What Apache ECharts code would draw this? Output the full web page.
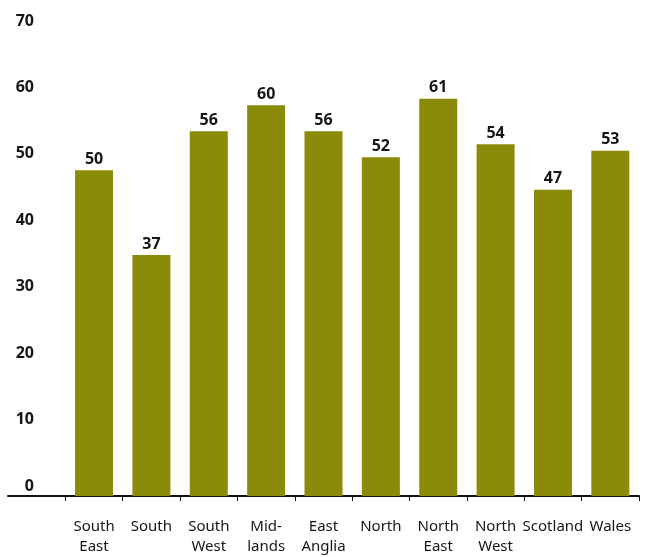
<!DOCTYPE html>
<html>
<head>
<meta charset="utf-8">
<script src="https://cdn.jsdelivr.net/npm/echarts@6/dist/echarts.min.js"></script>
<style>
  html, body { margin: 0; padding: 0; background: #fff; }
  #chart { width: 646px; height: 557px; }
</style>
</head>
<body>
<div id="chart"></div>
<script>
// Regions (first slot left empty to give room for the value scale)
const regions = ['', 'South\nEast', 'South', 'South\nWest', 'Mid-\nlands', 'East\nAnglia',
                 'North', 'North\nEast', 'North\nWest', 'Scotland', 'Wales'];
const values = [null, 50, 37, 56, 60, 56, 52, 61, 54, 47, 53];
const scaleMin = 0;
const scaleMax = 70;
const scaleStep = 10;

const FONT = '"Noto Sans", sans-serif';
const BAR = '#8b8b0a';
const INK = '#161616';

const chart = echarts.init(document.getElementById('chart'), null, { renderer: 'canvas' });

chart.setOption({
  animation: false,
  backgroundColor: '#fff',
  grid: [
    { left: 8, width: 631, top: 40, height: 458, containLabel: false },
    { left: 34, width: 10, top: 21, height: 465, containLabel: false }
  ],
  xAxis: [
    {
      type: 'category',
      gridIndex: 0,
      data: regions,
      boundaryGap: true,
      axisLine: { show: true, lineStyle: { color: '#111', width: 2 } },
      axisTick: {
        show: true,
        length: 5,
        lineStyle: { color: '#111', width: 1 },
        interval: function (index) { return index !== 0; }
      },
      axisLabel: {
        interval: 0,
        margin: 21,
        color: INK,
        fontFamily: FONT,
        fontSize: 15,
        lineHeight: 20
      }
    },
    { type: 'category', gridIndex: 1, data: [''], show: false }
  ],
  yAxis: [
    {
      type: 'value',
      gridIndex: 0,
      min: scaleMin,
      max: scaleMax,
      interval: scaleStep,
      show: false,
      splitLine: { show: false }
    },
    {
      type: 'value',
      gridIndex: 1,
      min: scaleMin,
      max: scaleMax,
      interval: scaleStep,
      axisLine: { show: false },
      axisTick: { show: false },
      splitLine: { show: false },
      axisLabel: {
        margin: 0,
        color: INK,
        fontFamily: FONT,
        fontSize: 16,
        fontWeight: 'bold'
      }
    }
  ],
  series: [
    {
      type: 'bar',
      xAxisIndex: 0,
      yAxisIndex: 0,
      data: values,
      barWidth: 38,
      itemStyle: { color: BAR },
      label: {
        show: true,
        position: 'top',
        distance: 3,
        color: INK,
        fontFamily: FONT,
        fontSize: 16,
        fontWeight: 'bold'
      }
    }
  ]
});
</script>
</body>
</html>
